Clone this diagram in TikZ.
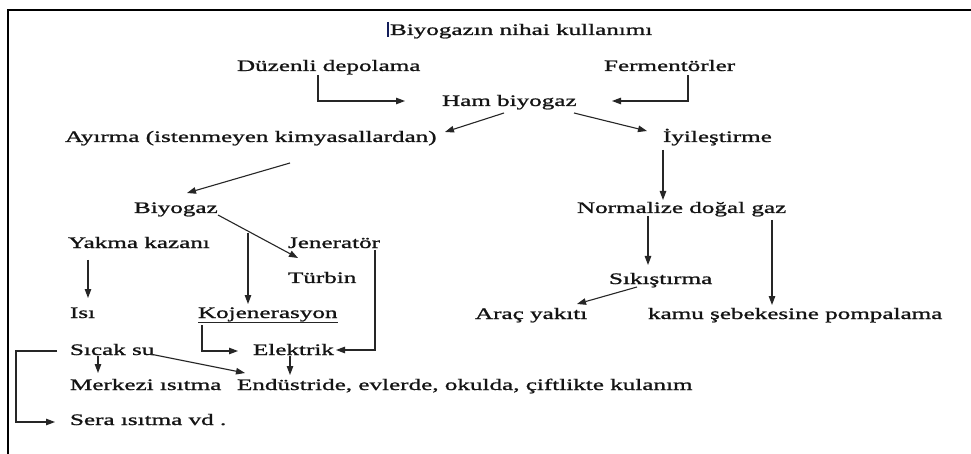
\documentclass[tikz,border=0pt]{standalone}
\usepackage{fontspec}
\setmainfont{Liberation Serif}[FakeStretch=1.57,FakeBold=1.2]
\usetikzlibrary{arrows.meta,calc}
\definecolor{cursorblue}{RGB}{20,30,90}
\tikzset{
  lbl/.style={inner sep=0pt, outer sep=0pt, anchor=base west, text=black!92,
    font=\fontsize{16}{19}\selectfont},
  arr/.style={draw=black!85, line width=1.1pt, -{Triangle[length=9pt,width=6.5pt]}},
  frame/.style={draw=black, line width=2.6pt}
}
\begin{document}
\begin{tikzpicture}[x=1pt,y=-1pt]
\useasboundingbox (0,0) rectangle (971,454);
\fill[white] (0,0) rectangle (971,454);
% frame (top and left edges)
\draw[frame] (971,10) -- (8,10) -- (8,454);
% text cursor
\draw[cursorblue, line width=1.3pt] (388,22) -- (388,37);

% labels
\node[lbl] (title) at (390,35) {Biyogazın nihai kullanımı};
\node[lbl] (duz)   at (237,71) {Düzenli depolama};
\node[lbl] (ferm)  at (604,71) {Fermentörler};
\node[lbl] (ham)   at (442,106) {Ham biyogaz};
\node[lbl] (ayir)  at (65,142) {Ayırma (istenmeyen kimyasallardan)};
\node[lbl] (iyi)   at (663,142) {İyileştirme};
\node[lbl] (biyo)  at (134,213) {Biyogaz};
\node[lbl] (norm)  at (577,213) {Normalize doğal gaz};
\node[lbl] (yakma) at (68,248) {Yakma kazanı};
\node[lbl] (jen)   at (288,248) {Jeneratör};
\node[lbl] (turb)  at (288,283) {Türbin};
\node[lbl] (sik)   at (609,284) {Sıkıştırma};
\node[lbl] (isi)   at (70,318) {Isı};
\node[lbl] (koj)   at (198,318) {Kojenerasyon};
\node[lbl] (arac)  at (475,319) {Araç yakıtı};
\node[lbl] (kamu)  at (648,319) {kamu şebekesine pompalama};
\node[lbl] (sicak) at (70,355) {Sıcak su};
\node[lbl] (elek)  at (253,355) {Elektrik};
\node[lbl] (merk)  at (70,390) {Merkezi ısıtma};
\node[lbl] (endu)  at (237,390) {Endüstride, evlerde, okulda, çiftlikte kulanım};
\node[lbl] (sera)  at (70,425) {Sera ısıtma vd .};

% underline of Kojenerasyon
\draw[black!85, line width=0.9pt] ($(koj.base west)+(0,4)$) -- ($(koj.base east)+(0,4)$);

% connectors
\draw[arr] ($(duz.base west)+(81,4)$) |- ($(ham.base west)+(-37,-5)$);
\draw[arr] ($(ferm.base west)+(84,4)$) |- ($(ham.base west)+(170,-5)$);
\draw[arr] ($(ham.base west)+(62,7)$) -- ($(ayir.base west)+(380,-10)$);
\draw[arr] ($(ham.base west)+(132,7)$) -- ($(iyi.base west)+(-16,-11)$);
\draw[arr] ($(ayir.base west)+(225,21)$) -- ($(biyo.base west)+(53,-20)$);
\draw[arr] ($(iyi.base west)+(0,8)$) -- ($(norm.base west)+(86,-13)$);
\draw[arr] ($(biyo.base west)+(84,2)$) -- ($(turb.base west)+(10,-25)$);
\draw[arr] ($(biyo.base west)+(114,20)$) -- ($(koj.base west)+(50,-14)$);
\draw[arr] ($(yakma.base west)+(20,12)$) -- ($(isi.base west)+(18,-20)$);
\draw[arr] ($(jen.base west)+(87,2)$) |- ($(elek.base west)+(83,-5)$);
\draw[arr] ($(koj.base west)+(4,7)$) |- ($(elek.base west)+(-15,-4)$);
\draw[arr] ($(norm.base west)+(71,3)$) -- ($(sik.base west)+(39,-19)$);
\draw[arr] ($(norm.base west)+(195,7)$) -- ($(kamu.base west)+(124,-14)$);
\draw[arr] ($(sik.base west)+(28,3)$) -- ($(arac.base west)+(102,-15)$);
\draw[arr] ($(sicak.base west)+(28,1)$) -- ($(merk.base west)+(28,-17)$);
\draw[arr] ($(sicak.base west)+(80,-1)$) -- ($(endu.base west)+(8,-17)$);
\draw[arr] ($(elek.base west)+(37,1)$) -- ($(endu.base west)+(53,-15)$);
\draw[arr] ($(sicak.base west)+(-13,-4)$) -- ++(-41,0) |- ($(sera.base west)+(-15,-3)$);
\end{tikzpicture}
\end{document}
